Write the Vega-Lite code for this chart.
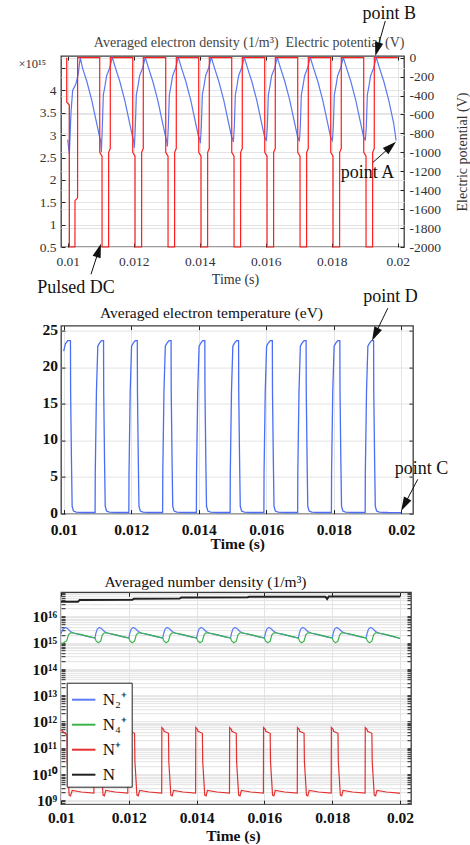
{
"$schema": "https://vega.github.io/schema/vega-lite/v6.json",
"padding": {"left": 17, "top": 3, "right": 0, "bottom": 0},
"background": "white",
"config": {
 "font": "Liberation Serif",
 "view": {"stroke": "#3c3c3c", "strokeWidth": 1.3},
 "axis": {"labelFont": "Liberation Serif", "titleFont": "Liberation Serif", "domain": false, "tickColor": "#222", "tickSize": -4, "tickWidth": 1, "gridColor": "#e4e4e4", "gridWidth": 1, "labelColor": "#111", "titleColor": "#111", "titleFontWeight": "normal", "labelOverlap": false, "labelFlush": false, "labelBound": false},
 "legend": {"fillColor": "#ffffff", "zindex": 1}
},
"datasets": {
 "dens": [
  {"t":0.01,"ne":2.9},{"t":0.01005,"ne":2.58},{"t":0.0101,"ne":3.5},{"t":0.01015,"ne":4.0},{"t":0.01025,"ne":4.15},{"t":0.01032,"ne":4.37},{"t":0.01038,"ne":4.74},{"t":0.01045,"ne":4.5},{"t":0.01058,"ne":4.2},{"t":0.01073,"ne":3.78},{"t":0.01088,"ne":3.26},{"t":0.01097,"ne":2.95},
  {"t":0.011,"ne":2.88},{"t":0.01102,"ne":2.62},{"t":0.01105,"ne":3.2},{"t":0.01108,"ne":3.9},{"t":0.01113,"ne":4.1},{"t":0.01118,"ne":4.33},{"t":0.01128,"ne":4.52},{"t":0.01135,"ne":4.74},{"t":0.01145,"ne":4.5},{"t":0.01158,"ne":4.2},{"t":0.01173,"ne":3.78},{"t":0.01188,"ne":3.26},{"t":0.01197,"ne":2.95},
  {"t":0.012,"ne":2.88},{"t":0.01202,"ne":2.72},{"t":0.01205,"ne":3.2},{"t":0.01208,"ne":3.9},{"t":0.01213,"ne":4.1},{"t":0.01218,"ne":4.33},{"t":0.01228,"ne":4.52},{"t":0.01235,"ne":4.74},{"t":0.01245,"ne":4.5},{"t":0.01258,"ne":4.2},{"t":0.01273,"ne":3.78},{"t":0.01288,"ne":3.26},{"t":0.01297,"ne":2.95},
  {"t":0.013,"ne":2.88},{"t":0.01302,"ne":2.75},{"t":0.01305,"ne":3.2},{"t":0.01308,"ne":3.9},{"t":0.01313,"ne":4.1},{"t":0.01318,"ne":4.33},{"t":0.01328,"ne":4.52},{"t":0.01335,"ne":4.74},{"t":0.01345,"ne":4.5},{"t":0.01358,"ne":4.2},{"t":0.01373,"ne":3.78},{"t":0.01388,"ne":3.26},{"t":0.01397,"ne":2.95},
  {"t":0.014,"ne":2.92},{"t":0.01402,"ne":2.82},{"t":0.01405,"ne":3.2},{"t":0.01408,"ne":3.9},{"t":0.01413,"ne":4.1},{"t":0.01418,"ne":4.33},{"t":0.01428,"ne":4.52},{"t":0.01435,"ne":4.74},{"t":0.01445,"ne":4.5},{"t":0.01458,"ne":4.2},{"t":0.01473,"ne":3.78},{"t":0.01488,"ne":3.26},{"t":0.01497,"ne":2.95},
  {"t":0.015,"ne":2.92},{"t":0.01502,"ne":2.85},{"t":0.01505,"ne":3.2},{"t":0.01508,"ne":3.9},{"t":0.01513,"ne":4.1},{"t":0.01518,"ne":4.33},{"t":0.01528,"ne":4.52},{"t":0.01535,"ne":4.74},{"t":0.01545,"ne":4.5},{"t":0.01558,"ne":4.2},{"t":0.01573,"ne":3.78},{"t":0.01588,"ne":3.26},{"t":0.01597,"ne":2.95},
  {"t":0.016,"ne":2.92},{"t":0.01602,"ne":2.87},{"t":0.01605,"ne":3.2},{"t":0.01608,"ne":3.9},{"t":0.01613,"ne":4.1},{"t":0.01618,"ne":4.33},{"t":0.01628,"ne":4.52},{"t":0.01635,"ne":4.74},{"t":0.01645,"ne":4.5},{"t":0.01658,"ne":4.2},{"t":0.01673,"ne":3.78},{"t":0.01688,"ne":3.26},{"t":0.01697,"ne":2.95},
  {"t":0.017,"ne":2.92},{"t":0.01702,"ne":2.86},{"t":0.01705,"ne":3.2},{"t":0.01708,"ne":3.9},{"t":0.01713,"ne":4.1},{"t":0.01718,"ne":4.33},{"t":0.01728,"ne":4.52},{"t":0.01735,"ne":4.74},{"t":0.01745,"ne":4.5},{"t":0.01758,"ne":4.2},{"t":0.01773,"ne":3.78},{"t":0.01788,"ne":3.26},{"t":0.01797,"ne":2.95},
  {"t":0.018,"ne":2.92},{"t":0.01802,"ne":2.86},{"t":0.01805,"ne":3.2},{"t":0.01808,"ne":3.9},{"t":0.01813,"ne":4.1},{"t":0.01818,"ne":4.33},{"t":0.01828,"ne":4.52},{"t":0.01835,"ne":4.74},{"t":0.01845,"ne":4.5},{"t":0.01858,"ne":4.2},{"t":0.01873,"ne":3.78},{"t":0.01888,"ne":3.26},{"t":0.01897,"ne":2.95},
  {"t":0.019,"ne":2.92},{"t":0.01902,"ne":2.88},{"t":0.01905,"ne":3.2},{"t":0.01908,"ne":3.9},{"t":0.01913,"ne":4.1},{"t":0.01918,"ne":4.33},{"t":0.01928,"ne":4.52},{"t":0.01935,"ne":4.74},{"t":0.01945,"ne":4.5},{"t":0.01958,"ne":4.2},{"t":0.01973,"ne":3.78},{"t":0.01988,"ne":3.26},{"t":0.01995,"ne":2.88}
 ],
 "pot": [
  {"t":0.00997,"v":0},{"t":0.009971,"v":-470},{"t":0.01005,"v":-500},{"t":0.010051,"v":-2000},{"t":0.01022,"v":-2000},{"t":0.010221,"v":-1510},{"t":0.0103,"v":-1480},{"t":0.010301,"v":0},
  {"t":0.01097,"v":0},{"t":0.010971,"v":-1000},{"t":0.01104,"v":-1040},{"t":0.011041,"v":-2000},{"t":0.01124,"v":-2000},{"t":0.011241,"v":-1000},{"t":0.01129,"v":-960},{"t":0.011291,"v":0},
  {"t":0.01197,"v":0},{"t":0.011971,"v":-1000},{"t":0.01204,"v":-1040},{"t":0.012041,"v":-2000},{"t":0.01224,"v":-2000},{"t":0.012241,"v":-1000},{"t":0.01229,"v":-960},{"t":0.012291,"v":0},
  {"t":0.01297,"v":0},{"t":0.012971,"v":-1000},{"t":0.01304,"v":-1040},{"t":0.013041,"v":-2000},{"t":0.01324,"v":-2000},{"t":0.013241,"v":-1000},{"t":0.01329,"v":-960},{"t":0.013291,"v":0},
  {"t":0.01397,"v":0},{"t":0.013971,"v":-1000},{"t":0.01404,"v":-1040},{"t":0.014041,"v":-2000},{"t":0.01424,"v":-2000},{"t":0.014241,"v":-1000},{"t":0.01429,"v":-960},{"t":0.014291,"v":0},
  {"t":0.01497,"v":0},{"t":0.014971,"v":-1000},{"t":0.01504,"v":-1040},{"t":0.015041,"v":-2000},{"t":0.01524,"v":-2000},{"t":0.015241,"v":-1000},{"t":0.01529,"v":-960},{"t":0.015291,"v":0},
  {"t":0.01597,"v":0},{"t":0.015971,"v":-1000},{"t":0.01604,"v":-1040},{"t":0.016041,"v":-2000},{"t":0.01624,"v":-2000},{"t":0.016241,"v":-1000},{"t":0.01629,"v":-960},{"t":0.016291,"v":0},
  {"t":0.01697,"v":0},{"t":0.016971,"v":-1000},{"t":0.01704,"v":-1040},{"t":0.017041,"v":-2000},{"t":0.01724,"v":-2000},{"t":0.017241,"v":-1000},{"t":0.01729,"v":-960},{"t":0.017291,"v":0},
  {"t":0.01797,"v":0},{"t":0.017971,"v":-1000},{"t":0.01804,"v":-1040},{"t":0.018041,"v":-2000},{"t":0.01824,"v":-2000},{"t":0.018241,"v":-1000},{"t":0.01829,"v":-960},{"t":0.018291,"v":0},
  {"t":0.01897,"v":0},{"t":0.018971,"v":-1000},{"t":0.01904,"v":-1040},{"t":0.019041,"v":-2000},{"t":0.01924,"v":-2000},{"t":0.019241,"v":-1000},{"t":0.01929,"v":-960},{"t":0.019291,"v":0},
  {"t":0.02,"v":0}
 ],
 "temp": [
  {"t":0.01,"te":22.2},{"t":0.01005,"te":23.2},{"t":0.01012,"te":23.65},{"t":0.0102,"te":23.65},{"t":0.010205,"te":16.7},{"t":0.01023,"te":7.2},{"t":0.01025,"te":1.0},{"t":0.01029,"te":0.35},{"t":0.01037,"te":0.2},{"t":0.0106,"te":0.15},
  {"t":0.01093,"te":0.15},{"t":0.010935,"te":5.6},{"t":0.01097,"te":16.7},{"t":0.01101,"te":22.9},{"t":0.01106,"te":23.3},{"t":0.01112,"te":23.65},{"t":0.01118,"te":23.65},{"t":0.011185,"te":16.7},{"t":0.01121,"te":7.2},{"t":0.01123,"te":1.0},{"t":0.01127,"te":0.35},{"t":0.01135,"te":0.2},{"t":0.0116,"te":0.15},
  {"t":0.01193,"te":0.15},{"t":0.011935,"te":5.6},{"t":0.01197,"te":16.7},{"t":0.01201,"te":22.9},{"t":0.01206,"te":23.3},{"t":0.01212,"te":23.65},{"t":0.01218,"te":23.65},{"t":0.012185,"te":16.7},{"t":0.01221,"te":7.2},{"t":0.01223,"te":1.0},{"t":0.01227,"te":0.35},{"t":0.01235,"te":0.2},{"t":0.0126,"te":0.15},
  {"t":0.01293,"te":0.15},{"t":0.012935,"te":5.6},{"t":0.01297,"te":16.7},{"t":0.01301,"te":22.9},{"t":0.01306,"te":23.3},{"t":0.01312,"te":23.65},{"t":0.01318,"te":23.65},{"t":0.013185,"te":16.7},{"t":0.01321,"te":7.2},{"t":0.01323,"te":1.0},{"t":0.01327,"te":0.35},{"t":0.01335,"te":0.2},{"t":0.0136,"te":0.15},
  {"t":0.01393,"te":0.15},{"t":0.013935,"te":5.6},{"t":0.01397,"te":16.7},{"t":0.01401,"te":22.9},{"t":0.01406,"te":23.3},{"t":0.01412,"te":23.65},{"t":0.01418,"te":23.65},{"t":0.014185,"te":16.7},{"t":0.01421,"te":7.2},{"t":0.01423,"te":1.0},{"t":0.01427,"te":0.35},{"t":0.01435,"te":0.2},{"t":0.0146,"te":0.15},
  {"t":0.01493,"te":0.15},{"t":0.014935,"te":5.6},{"t":0.01497,"te":16.7},{"t":0.01501,"te":22.9},{"t":0.01506,"te":23.3},{"t":0.01512,"te":23.65},{"t":0.01518,"te":23.65},{"t":0.015185,"te":16.7},{"t":0.01521,"te":7.2},{"t":0.01523,"te":1.0},{"t":0.01527,"te":0.35},{"t":0.01535,"te":0.2},{"t":0.0156,"te":0.15},
  {"t":0.01593,"te":0.15},{"t":0.015935,"te":5.6},{"t":0.01597,"te":16.7},{"t":0.01601,"te":22.9},{"t":0.01606,"te":23.3},{"t":0.01612,"te":23.65},{"t":0.01618,"te":23.65},{"t":0.016185,"te":16.7},{"t":0.01621,"te":7.2},{"t":0.01623,"te":1.0},{"t":0.01627,"te":0.35},{"t":0.01635,"te":0.2},{"t":0.0166,"te":0.15},
  {"t":0.01693,"te":0.15},{"t":0.016935,"te":5.6},{"t":0.01697,"te":16.7},{"t":0.01701,"te":22.9},{"t":0.01706,"te":23.3},{"t":0.01712,"te":23.65},{"t":0.01718,"te":23.65},{"t":0.017185,"te":16.7},{"t":0.01721,"te":7.2},{"t":0.01723,"te":1.0},{"t":0.01727,"te":0.35},{"t":0.01735,"te":0.2},{"t":0.0176,"te":0.15},
  {"t":0.01793,"te":0.15},{"t":0.017935,"te":5.6},{"t":0.01797,"te":16.7},{"t":0.01801,"te":22.9},{"t":0.01806,"te":23.3},{"t":0.01812,"te":23.65},{"t":0.01818,"te":23.65},{"t":0.018185,"te":16.7},{"t":0.01821,"te":7.2},{"t":0.01823,"te":1.0},{"t":0.01827,"te":0.35},{"t":0.01835,"te":0.2},{"t":0.0186,"te":0.15},
  {"t":0.01893,"te":0.15},{"t":0.018935,"te":5.6},{"t":0.01897,"te":16.7},{"t":0.01901,"te":22.9},{"t":0.01906,"te":23.3},{"t":0.01912,"te":23.65},{"t":0.01918,"te":23.65},{"t":0.019185,"te":16.7},{"t":0.01921,"te":7.2},{"t":0.01923,"te":1.0},{"t":0.01927,"te":0.35},{"t":0.01935,"te":0.2},{"t":0.0196,"te":0.15},
  {"t":0.02,"te":0.13}
 ],
 "nd": [
  {"t":0.01,"species":"N₂⁺","n":2.2e15},{"t":0.01005,"species":"N₂⁺","n":3.2e15},{"t":0.01013,"species":"N₂⁺","n":3.8e15},{"t":0.0102,"species":"N₂⁺","n":3.4e15},{"t":0.01028,"species":"N₂⁺","n":2.7e15},{"t":0.01038,"species":"N₂⁺","n":2.3e15},{"t":0.0106,"species":"N₂⁺","n":2.0e15},{"t":0.0108,"species":"N₂⁺","n":1.72e15},
  {"t":0.011,"species":"N₂⁺","n":1.5e15},{"t":0.01103,"species":"N₂⁺","n":2.3e15},{"t":0.01107,"species":"N₂⁺","n":3.3e15},{"t":0.01113,"species":"N₂⁺","n":3.8e15},{"t":0.0112,"species":"N₂⁺","n":3.4e15},{"t":0.01128,"species":"N₂⁺","n":2.7e15},{"t":0.01138,"species":"N₂⁺","n":2.3e15},{"t":0.0116,"species":"N₂⁺","n":2.0e15},{"t":0.0118,"species":"N₂⁺","n":1.72e15},
  {"t":0.012,"species":"N₂⁺","n":1.5e15},{"t":0.01203,"species":"N₂⁺","n":2.3e15},{"t":0.01207,"species":"N₂⁺","n":3.3e15},{"t":0.01213,"species":"N₂⁺","n":3.8e15},{"t":0.0122,"species":"N₂⁺","n":3.4e15},{"t":0.01228,"species":"N₂⁺","n":2.7e15},{"t":0.01238,"species":"N₂⁺","n":2.3e15},{"t":0.0126,"species":"N₂⁺","n":2.0e15},{"t":0.0128,"species":"N₂⁺","n":1.72e15},
  {"t":0.013,"species":"N₂⁺","n":1.5e15},{"t":0.01303,"species":"N₂⁺","n":2.3e15},{"t":0.01307,"species":"N₂⁺","n":3.3e15},{"t":0.01313,"species":"N₂⁺","n":3.8e15},{"t":0.0132,"species":"N₂⁺","n":3.4e15},{"t":0.01328,"species":"N₂⁺","n":2.7e15},{"t":0.01338,"species":"N₂⁺","n":2.3e15},{"t":0.0136,"species":"N₂⁺","n":2.0e15},{"t":0.0138,"species":"N₂⁺","n":1.72e15},
  {"t":0.014,"species":"N₂⁺","n":1.5e15},{"t":0.01403,"species":"N₂⁺","n":2.3e15},{"t":0.01407,"species":"N₂⁺","n":3.3e15},{"t":0.01413,"species":"N₂⁺","n":3.8e15},{"t":0.0142,"species":"N₂⁺","n":3.4e15},{"t":0.01428,"species":"N₂⁺","n":2.7e15},{"t":0.01438,"species":"N₂⁺","n":2.3e15},{"t":0.0146,"species":"N₂⁺","n":2.0e15},{"t":0.0148,"species":"N₂⁺","n":1.72e15},
  {"t":0.015,"species":"N₂⁺","n":1.5e15},{"t":0.01503,"species":"N₂⁺","n":2.3e15},{"t":0.01507,"species":"N₂⁺","n":3.3e15},{"t":0.01513,"species":"N₂⁺","n":3.8e15},{"t":0.0152,"species":"N₂⁺","n":3.4e15},{"t":0.01528,"species":"N₂⁺","n":2.7e15},{"t":0.01538,"species":"N₂⁺","n":2.3e15},{"t":0.0156,"species":"N₂⁺","n":2.0e15},{"t":0.0158,"species":"N₂⁺","n":1.72e15},
  {"t":0.016,"species":"N₂⁺","n":1.5e15},{"t":0.01603,"species":"N₂⁺","n":2.3e15},{"t":0.01607,"species":"N₂⁺","n":3.3e15},{"t":0.01613,"species":"N₂⁺","n":3.8e15},{"t":0.0162,"species":"N₂⁺","n":3.4e15},{"t":0.01628,"species":"N₂⁺","n":2.7e15},{"t":0.01638,"species":"N₂⁺","n":2.3e15},{"t":0.0166,"species":"N₂⁺","n":2.0e15},{"t":0.0168,"species":"N₂⁺","n":1.72e15},
  {"t":0.017,"species":"N₂⁺","n":1.5e15},{"t":0.01703,"species":"N₂⁺","n":2.3e15},{"t":0.01707,"species":"N₂⁺","n":3.3e15},{"t":0.01713,"species":"N₂⁺","n":3.8e15},{"t":0.0172,"species":"N₂⁺","n":3.4e15},{"t":0.01728,"species":"N₂⁺","n":2.7e15},{"t":0.01738,"species":"N₂⁺","n":2.3e15},{"t":0.0176,"species":"N₂⁺","n":2.0e15},{"t":0.0178,"species":"N₂⁺","n":1.72e15},
  {"t":0.018,"species":"N₂⁺","n":1.5e15},{"t":0.01803,"species":"N₂⁺","n":2.3e15},{"t":0.01807,"species":"N₂⁺","n":3.3e15},{"t":0.01813,"species":"N₂⁺","n":3.8e15},{"t":0.0182,"species":"N₂⁺","n":3.4e15},{"t":0.01828,"species":"N₂⁺","n":2.7e15},{"t":0.01838,"species":"N₂⁺","n":2.3e15},{"t":0.0186,"species":"N₂⁺","n":2.0e15},{"t":0.0188,"species":"N₂⁺","n":1.72e15},
  {"t":0.019,"species":"N₂⁺","n":1.5e15},{"t":0.01903,"species":"N₂⁺","n":2.3e15},{"t":0.01907,"species":"N₂⁺","n":3.3e15},{"t":0.01913,"species":"N₂⁺","n":3.8e15},{"t":0.0192,"species":"N₂⁺","n":3.4e15},{"t":0.01928,"species":"N₂⁺","n":2.7e15},{"t":0.01938,"species":"N₂⁺","n":2.3e15},{"t":0.0196,"species":"N₂⁺","n":2.0e15},{"t":0.0198,"species":"N₂⁺","n":1.72e15},
  {"t":0.02,"species":"N₂⁺","n":1.45e15},
  {"t":0.01,"species":"N₄⁺","n":9.5e14},{"t":0.01005,"species":"N₄⁺","n":9.5e14},{"t":0.0101,"species":"N₄⁺","n":1.05e15},{"t":0.01017,"species":"N₄⁺","n":1.2e15},{"t":0.01022,"species":"N₄⁺","n":2.0e15},{"t":0.01028,"species":"N₄⁺","n":2.4e15},{"t":0.01038,"species":"N₄⁺","n":2.35e15},{"t":0.0106,"species":"N₄⁺","n":2.03e15},{"t":0.0108,"species":"N₄⁺","n":1.75e15},
  {"t":0.011,"species":"N₄⁺","n":1.52e15},{"t":0.01104,"species":"N₄⁺","n":1.15e15},{"t":0.0111,"species":"N₄⁺","n":1.0e15},{"t":0.01117,"species":"N₄⁺","n":1.15e15},{"t":0.01122,"species":"N₄⁺","n":2.0e15},{"t":0.01128,"species":"N₄⁺","n":2.4e15},{"t":0.01138,"species":"N₄⁺","n":2.35e15},{"t":0.0116,"species":"N₄⁺","n":2.03e15},{"t":0.0118,"species":"N₄⁺","n":1.75e15},
  {"t":0.012,"species":"N₄⁺","n":1.52e15},{"t":0.01204,"species":"N₄⁺","n":1.15e15},{"t":0.0121,"species":"N₄⁺","n":1.0e15},{"t":0.01217,"species":"N₄⁺","n":1.15e15},{"t":0.01222,"species":"N₄⁺","n":2.0e15},{"t":0.01228,"species":"N₄⁺","n":2.4e15},{"t":0.01238,"species":"N₄⁺","n":2.35e15},{"t":0.0126,"species":"N₄⁺","n":2.03e15},{"t":0.0128,"species":"N₄⁺","n":1.75e15},
  {"t":0.013,"species":"N₄⁺","n":1.52e15},{"t":0.01304,"species":"N₄⁺","n":1.15e15},{"t":0.0131,"species":"N₄⁺","n":1.0e15},{"t":0.01317,"species":"N₄⁺","n":1.15e15},{"t":0.01322,"species":"N₄⁺","n":2.0e15},{"t":0.01328,"species":"N₄⁺","n":2.4e15},{"t":0.01338,"species":"N₄⁺","n":2.35e15},{"t":0.0136,"species":"N₄⁺","n":2.03e15},{"t":0.0138,"species":"N₄⁺","n":1.75e15},
  {"t":0.014,"species":"N₄⁺","n":1.52e15},{"t":0.01404,"species":"N₄⁺","n":1.15e15},{"t":0.0141,"species":"N₄⁺","n":1.0e15},{"t":0.01417,"species":"N₄⁺","n":1.15e15},{"t":0.01422,"species":"N₄⁺","n":2.0e15},{"t":0.01428,"species":"N₄⁺","n":2.4e15},{"t":0.01438,"species":"N₄⁺","n":2.35e15},{"t":0.0146,"species":"N₄⁺","n":2.03e15},{"t":0.0148,"species":"N₄⁺","n":1.75e15},
  {"t":0.015,"species":"N₄⁺","n":1.52e15},{"t":0.01504,"species":"N₄⁺","n":1.15e15},{"t":0.0151,"species":"N₄⁺","n":1.0e15},{"t":0.01517,"species":"N₄⁺","n":1.15e15},{"t":0.01522,"species":"N₄⁺","n":2.0e15},{"t":0.01528,"species":"N₄⁺","n":2.4e15},{"t":0.01538,"species":"N₄⁺","n":2.35e15},{"t":0.0156,"species":"N₄⁺","n":2.03e15},{"t":0.0158,"species":"N₄⁺","n":1.75e15},
  {"t":0.016,"species":"N₄⁺","n":1.52e15},{"t":0.01604,"species":"N₄⁺","n":1.15e15},{"t":0.0161,"species":"N₄⁺","n":1.0e15},{"t":0.01617,"species":"N₄⁺","n":1.15e15},{"t":0.01622,"species":"N₄⁺","n":2.0e15},{"t":0.01628,"species":"N₄⁺","n":2.4e15},{"t":0.01638,"species":"N₄⁺","n":2.35e15},{"t":0.0166,"species":"N₄⁺","n":2.03e15},{"t":0.0168,"species":"N₄⁺","n":1.75e15},
  {"t":0.017,"species":"N₄⁺","n":1.52e15},{"t":0.01704,"species":"N₄⁺","n":1.15e15},{"t":0.0171,"species":"N₄⁺","n":1.0e15},{"t":0.01717,"species":"N₄⁺","n":1.15e15},{"t":0.01722,"species":"N₄⁺","n":2.0e15},{"t":0.01728,"species":"N₄⁺","n":2.4e15},{"t":0.01738,"species":"N₄⁺","n":2.35e15},{"t":0.0176,"species":"N₄⁺","n":2.03e15},{"t":0.0178,"species":"N₄⁺","n":1.75e15},
  {"t":0.018,"species":"N₄⁺","n":1.52e15},{"t":0.01804,"species":"N₄⁺","n":1.15e15},{"t":0.0181,"species":"N₄⁺","n":1.0e15},{"t":0.01817,"species":"N₄⁺","n":1.15e15},{"t":0.01822,"species":"N₄⁺","n":2.0e15},{"t":0.01828,"species":"N₄⁺","n":2.4e15},{"t":0.01838,"species":"N₄⁺","n":2.35e15},{"t":0.0186,"species":"N₄⁺","n":2.03e15},{"t":0.0188,"species":"N₄⁺","n":1.75e15},
  {"t":0.019,"species":"N₄⁺","n":1.52e15},{"t":0.01904,"species":"N₄⁺","n":1.15e15},{"t":0.0191,"species":"N₄⁺","n":1.0e15},{"t":0.01917,"species":"N₄⁺","n":1.15e15},{"t":0.01922,"species":"N₄⁺","n":2.0e15},{"t":0.01928,"species":"N₄⁺","n":2.4e15},{"t":0.01938,"species":"N₄⁺","n":2.35e15},{"t":0.0196,"species":"N₄⁺","n":2.03e15},{"t":0.0198,"species":"N₄⁺","n":1.75e15},
  {"t":0.02,"species":"N₄⁺","n":1.48e15},
  {"t":0.01,"species":"N⁺","n":5.1e11},{"t":0.01003,"species":"N⁺","n":4.5e11},{"t":0.01015,"species":"N⁺","n":3.3e11},{"t":0.01018,"species":"N⁺","n":3.0e11},{"t":0.010185,"species":"N⁺","n":3e10},{"t":0.01024,"species":"N⁺","n":1.6e9},{"t":0.01028,"species":"N⁺","n":1.5e9},{"t":0.01033,"species":"N⁺","n":2.4e9},{"t":0.0106,"species":"N⁺","n":2.1e9},{"t":0.01097,"species":"N⁺","n":1.9e9},
  {"t":0.010975,"species":"N⁺","n":6e11},{"t":0.01103,"species":"N⁺","n":5e11},{"t":0.01104,"species":"N⁺","n":4.3e11},{"t":0.01117,"species":"N⁺","n":3.6e11},{"t":0.01118,"species":"N⁺","n":3e10},{"t":0.01124,"species":"N⁺","n":1.6e9},{"t":0.01128,"species":"N⁺","n":1.5e9},{"t":0.01132,"species":"N⁺","n":2.4e9},{"t":0.0116,"species":"N⁺","n":2.1e9},{"t":0.01197,"species":"N⁺","n":1.9e9},
  {"t":0.011975,"species":"N⁺","n":6e11},{"t":0.01203,"species":"N⁺","n":5e11},{"t":0.01204,"species":"N⁺","n":4.3e11},{"t":0.01217,"species":"N⁺","n":3.6e11},{"t":0.01218,"species":"N⁺","n":3e10},{"t":0.01224,"species":"N⁺","n":1.6e9},{"t":0.01228,"species":"N⁺","n":1.5e9},{"t":0.01232,"species":"N⁺","n":2.4e9},{"t":0.0126,"species":"N⁺","n":2.1e9},{"t":0.01297,"species":"N⁺","n":1.9e9},
  {"t":0.012975,"species":"N⁺","n":6e11},{"t":0.01303,"species":"N⁺","n":5e11},{"t":0.01304,"species":"N⁺","n":4.3e11},{"t":0.01317,"species":"N⁺","n":3.6e11},{"t":0.01318,"species":"N⁺","n":3e10},{"t":0.01324,"species":"N⁺","n":1.6e9},{"t":0.01328,"species":"N⁺","n":1.5e9},{"t":0.01332,"species":"N⁺","n":2.4e9},{"t":0.0136,"species":"N⁺","n":2.1e9},{"t":0.01397,"species":"N⁺","n":1.9e9},
  {"t":0.013975,"species":"N⁺","n":6e11},{"t":0.01403,"species":"N⁺","n":5e11},{"t":0.01404,"species":"N⁺","n":4.3e11},{"t":0.01417,"species":"N⁺","n":3.6e11},{"t":0.01418,"species":"N⁺","n":3e10},{"t":0.01424,"species":"N⁺","n":1.6e9},{"t":0.01428,"species":"N⁺","n":1.5e9},{"t":0.01432,"species":"N⁺","n":2.4e9},{"t":0.0146,"species":"N⁺","n":2.1e9},{"t":0.01497,"species":"N⁺","n":1.9e9},
  {"t":0.014975,"species":"N⁺","n":6e11},{"t":0.01503,"species":"N⁺","n":5e11},{"t":0.01504,"species":"N⁺","n":4.3e11},{"t":0.01517,"species":"N⁺","n":3.6e11},{"t":0.01518,"species":"N⁺","n":3e10},{"t":0.01524,"species":"N⁺","n":1.6e9},{"t":0.01528,"species":"N⁺","n":1.5e9},{"t":0.01532,"species":"N⁺","n":2.4e9},{"t":0.0156,"species":"N⁺","n":2.1e9},{"t":0.01597,"species":"N⁺","n":1.9e9},
  {"t":0.015975,"species":"N⁺","n":6e11},{"t":0.01603,"species":"N⁺","n":5e11},{"t":0.01604,"species":"N⁺","n":4.3e11},{"t":0.01617,"species":"N⁺","n":3.6e11},{"t":0.01618,"species":"N⁺","n":3e10},{"t":0.01624,"species":"N⁺","n":1.6e9},{"t":0.01628,"species":"N⁺","n":1.5e9},{"t":0.01632,"species":"N⁺","n":2.4e9},{"t":0.0166,"species":"N⁺","n":2.1e9},{"t":0.01697,"species":"N⁺","n":1.9e9},
  {"t":0.016975,"species":"N⁺","n":6e11},{"t":0.01703,"species":"N⁺","n":5e11},{"t":0.01704,"species":"N⁺","n":4.3e11},{"t":0.01717,"species":"N⁺","n":3.6e11},{"t":0.01718,"species":"N⁺","n":3e10},{"t":0.01724,"species":"N⁺","n":1.6e9},{"t":0.01728,"species":"N⁺","n":1.5e9},{"t":0.01732,"species":"N⁺","n":2.4e9},{"t":0.0176,"species":"N⁺","n":2.1e9},{"t":0.01797,"species":"N⁺","n":1.9e9},
  {"t":0.017975,"species":"N⁺","n":6e11},{"t":0.01803,"species":"N⁺","n":5e11},{"t":0.01804,"species":"N⁺","n":4.3e11},{"t":0.01817,"species":"N⁺","n":3.6e11},{"t":0.01818,"species":"N⁺","n":3e10},{"t":0.01824,"species":"N⁺","n":1.6e9},{"t":0.01828,"species":"N⁺","n":1.5e9},{"t":0.01832,"species":"N⁺","n":2.4e9},{"t":0.0186,"species":"N⁺","n":2.1e9},{"t":0.01897,"species":"N⁺","n":1.9e9},
  {"t":0.018975,"species":"N⁺","n":6e11},{"t":0.01903,"species":"N⁺","n":5e11},{"t":0.01904,"species":"N⁺","n":4.3e11},{"t":0.01917,"species":"N⁺","n":3.6e11},{"t":0.01918,"species":"N⁺","n":3e10},{"t":0.01924,"species":"N⁺","n":1.6e9},{"t":0.01928,"species":"N⁺","n":1.5e9},{"t":0.01932,"species":"N⁺","n":2.4e9},{"t":0.0196,"species":"N⁺","n":2.1e9},{"t":0.01997,"species":"N⁺","n":1.9e9},
  {"t":0.02,"species":"N⁺","n":1.85e9},
  {"t":0.01,"species":"N","n":3.6e16},{"t":0.0105,"species":"N","n":3.65e16},{"t":0.01055,"species":"N","n":4.2e16},{"t":0.0121,"species":"N","n":4.3e16},{"t":0.01215,"species":"N","n":4.7e16},{"t":0.0135,"species":"N","n":4.8e16},{"t":0.01355,"species":"N","n":5.3e16},{"t":0.0155,"species":"N","n":5.4e16},{"t":0.01555,"species":"N","n":5.6e16},{"t":0.0178,"species":"N","n":5.65e16},{"t":0.01785,"species":"N","n":4.6e16},{"t":0.0179,"species":"N","n":5.8e16},{"t":0.02,"species":"N","n":5.8e16}
 ],
 "ann1": [{"label":"point B","t":0.019745,"v":414},{"label":"point A","t":0.019085,"v":-1276},{"label":"Pulsed DC","t":0.010252,"v":-2481}],
 "arr1": [{"label":"point B","t0":0.019624,"v0":388,"t1":0.019379,"v1":89},{"label":"point A","t0":0.019242,"v0":-1109,"t1":0.019791,"v1":-937},{"label":"Pulsed DC","t0":0.010706,"v0":-2288,"t1":0.010942,"v1":-2035}],
 "ann2": [{"label":"point D","t":0.019683,"v":28.93},{"label":"point C","t":0.020601,"v":5.37}],
 "arr2": [{"label":"point D","t0":0.0196,"v0":28.08,"t1":0.019224,"v1":24.5},{"label":"point C","t0":0.020489,"v0":4.69,"t1":0.020092,"v1":1.21}]
},
"spacing": 78.6,
"bounds": "flush",
"vconcat": [
 {
  "width": 343, "height": 191,
  "layer": [
   {
    "data": {"name": "dens"},
    "mark": {"type": "line", "color": "#5a78f0", "strokeWidth": 1.2},
    "encoding": {
     "x": {"field": "t", "type": "quantitative", "scale": {"domain": [0.009797, 0.020191], "nice": false, "zero": false},
      "axis": {"orient": "bottom", "values": [0.01,0.012,0.014,0.016,0.018,0.02], "format": "~g", "labelFontSize": 13.5, "labelColor": "#333", "labelPadding": 11, "grid": true, "title": "Time (s)", "titleFontSize": 14, "titleColor": "#333", "titleX": 174, "titleY": 36, "titleAlign": "center", "titleBaseline": "alphabetic", "titleAngle": 0}},
     "y": {"field": "ne", "type": "quantitative", "scale": {"domain": [0.5, 4.77], "nice": false, "zero": false},
      "axis": {"orient": "left", "values": [0.5,1,1.5,2,2.5,3,3.5,4,4.5], "labelExpr": "datum.value == 4.5 ? '' : format(datum.value, '~g')", "labelFontSize": 13.5, "labelColor": "#333", "labelPadding": 9, "grid": true, "title": "×10¹⁵", "titleAngle": 0, "titleX": -43, "titleY": 7, "titleAlign": "left", "titleBaseline": "middle", "titleFontSize": 12.5, "titleColor": "#333"}}
    }
   },
   {
    "data": {"name": "pot"},
    "mark": {"type": "line", "color": "#ff1c1c", "strokeWidth": 1.2},
    "encoding": {
     "x": {"field": "t", "type": "quantitative",
      "axis": {"orient": "top", "values": [0.01,0.012,0.014,0.016,0.018,0.02], "labels": false, "grid": false, "title": "Averaged electron density (1/m³)\u00a0\u00a0Electric potential (V)", "titleX": 343, "titleY": -10, "titleAlign": "right", "titleBaseline": "alphabetic", "titleAngle": 0, "titleFontSize": 14, "titleColor": "#444"}},
     "y": {"field": "v", "type": "quantitative", "scale": {"domain": [-2000, 18], "nice": false, "zero": false},
      "axis": {"orient": "right", "values": [-2000,-1800,-1600,-1400,-1200,-1000,-800,-600,-400,-200,0], "labelExpr": "'' + datum.value", "labelFontSize": 13.5, "labelColor": "#333", "labelPadding": 9, "grid": true, "title": "Electric potential (V)", "titleAngle": 270, "titleX": 58.7, "titleY": 95.5, "titleAlign": "center", "titleBaseline": "middle", "titleFontSize": 14, "titleColor": "#333"}}
    }
   },
   {
    "data": {"name": "ann1"},
    "mark": {"type": "text", "fontSize": 18, "align": "center", "baseline": "alphabetic", "color": "#111", "clip": false},
    "encoding": {"x": {"field": "t", "type": "quantitative", "axis": null}, "y": {"field": "v", "type": "quantitative", "axis": null, "scale": {"domain": [-2000, 18], "nice": false, "zero": false}}, "text": {"field": "label"}}
   },
   {
    "data": {"name": "arr1"},
    "mark": {"type": "rule", "color": "#111", "strokeWidth": 1, "clip": false},
    "encoding": {"x": {"field": "t0", "type": "quantitative", "axis": null}, "y": {"field": "v0", "type": "quantitative", "axis": null, "scale": {"domain": [-2000, 18], "nice": false, "zero": false}}, "x2": {"field": "t1"}, "y2": {"field": "v1"}}
   },
   {
    "data": {"name": "arr1"},
    "transform": [{"filter": "datum.label == 'point B'"}],
    "mark": {"type": "point", "shape": "M0,-1L-0.6,1L0.6,1Z", "size": 196, "filled": true, "color": "#111", "opacity": 1, "angle": 196, "clip": false},
    "encoding": {"x": {"field": "t1", "type": "quantitative", "axis": null}, "y": {"field": "v1", "type": "quantitative", "axis": null, "scale": {"domain": [-2000, 18], "nice": false, "zero": false}}}
   },
   {
    "data": {"name": "arr1"},
    "transform": [{"filter": "datum.label == 'point A'"}],
    "mark": {"type": "point", "shape": "M0,-1L-0.6,1L0.6,1Z", "size": 196, "filled": true, "color": "#111", "opacity": 1, "angle": 48, "clip": false},
    "encoding": {"x": {"field": "t1", "type": "quantitative", "axis": null}, "y": {"field": "v1", "type": "quantitative", "axis": null, "scale": {"domain": [-2000, 18], "nice": false, "zero": false}}}
   },
   {
    "data": {"name": "arr1"},
    "transform": [{"filter": "datum.label == 'Pulsed DC'"}],
    "mark": {"type": "point", "shape": "M0,-1L-0.6,1L0.6,1Z", "size": 196, "filled": true, "color": "#111", "opacity": 1, "angle": 18, "clip": false},
    "encoding": {"x": {"field": "t1", "type": "quantitative", "axis": null}, "y": {"field": "v1", "type": "quantitative", "axis": null, "scale": {"domain": [-2000, 18], "nice": false, "zero": false}}}
   }
  ],
  "resolve": {"scale": {"y": "independent"}, "axis": {"x": "independent", "y": "independent"}}
 },
 {
  "width": 352, "height": 188,
  "layer": [
   {
    "data": {"name": "temp"},
    "mark": {"type": "line", "color": "#4a6ef5", "strokeWidth": 1.3},
    "encoding": {
     "x": {"field": "t", "type": "quantitative", "scale": {"domain": [0.00992, 0.020347], "nice": false, "zero": false},
      "axis": {"orient": "bottom", "values": [0.01,0.012,0.014,0.016,0.018,0.02], "format": "~g", "labelFontSize": 15.5, "labelFontWeight": "bold", "labelPadding": 12.5, "grid": true, "title": "Time (s)", "titleFontSize": 15.5, "titleFontWeight": "bold", "titleX": 176.3, "titleY": 34.8, "titleAlign": "center", "titleBaseline": "alphabetic", "titleAngle": 0}},
     "y": {"field": "te", "type": "quantitative", "scale": {"domain": [0, 25.7], "nice": false, "zero": false},
      "axis": {"orient": "left", "values": [0,5,10,15,20,25], "labelFontSize": 15.5, "labelFontWeight": "bold", "labelPadding": 7.4, "labelOffset": -1.5, "grid": true, "title": null}}
    }
   },
   {
    "data": {"name": "ann2"},
    "mark": {"type": "text", "fontSize": 18, "align": "center", "baseline": "alphabetic", "color": "#111", "clip": false},
    "encoding": {
     "x": {"field": "t", "type": "quantitative",
      "axis": {"orient": "top", "values": [0.01,0.012,0.014,0.016,0.018,0.02], "labels": false, "grid": false, "title": "Averaged electron temperature (eV)", "titleX": 150, "titleY": -8.5, "titleAlign": "center", "titleBaseline": "alphabetic", "titleAngle": 0, "titleFontSize": 15.5}},
     "y": {"field": "v", "type": "quantitative",
      "axis": {"orient": "right", "values": [0,5,10,15,20,25], "labels": false, "grid": false, "title": null}},
     "text": {"field": "label"}
    }
   },
   {
    "data": {"name": "arr2"},
    "mark": {"type": "rule", "color": "#111", "strokeWidth": 1, "clip": false},
    "encoding": {"x": {"field": "t0", "type": "quantitative", "axis": null}, "y": {"field": "v0", "type": "quantitative", "axis": null}, "x2": {"field": "t1"}, "y2": {"field": "v1"}}
   },
   {
    "data": {"name": "arr2"},
    "transform": [{"filter": "datum.label == 'point D'"}],
    "mark": {"type": "point", "shape": "M0,-1L-0.6,1L0.6,1Z", "size": 196, "filled": true, "color": "#111", "opacity": 1, "angle": 206, "clip": false},
    "encoding": {"x": {"field": "t1", "type": "quantitative", "axis": null}, "y": {"field": "v1", "type": "quantitative", "axis": null}}
   },
   {
    "data": {"name": "arr2"},
    "transform": [{"filter": "datum.label == 'point C'"}],
    "mark": {"type": "point", "shape": "M0,-1L-0.6,1L0.6,1Z", "size": 196, "filled": true, "color": "#111", "opacity": 1, "angle": 208, "clip": false},
    "encoding": {"x": {"field": "t1", "type": "quantitative", "axis": null}, "y": {"field": "v1", "type": "quantitative", "axis": null}}
   }
  ],
  "resolve": {"axis": {"x": "independent", "y": "independent"}}
 },
 {
  "width": 350, "height": 212,
  "layer": [
   {
    "data": {"name": "nd"},
    "mark": {"type": "line"},
    "encoding": {
     "x": {"field": "t", "type": "quantitative", "scale": {"domain": [0.01, 0.020324], "nice": false, "zero": false},
      "axis": {"orient": "bottom", "values": [0.01,0.012,0.014,0.016,0.018,0.02], "format": "~g", "labelFontSize": 15.5, "labelFontWeight": "bold", "labelPadding": 10, "grid": true, "title": "Time (s)", "titleFontSize": 15.5, "titleFontWeight": "bold", "titleX": 172, "titleY": 35.8, "titleAlign": "center", "titleBaseline": "alphabetic", "titleAngle": 0}},
     "y": {"field": "n", "type": "quantitative", "scale": {"type": "log", "domain": [7.2e8, 8.4e16], "nice": false},
      "axis": {"orient": "left", "values": [8e8,9e8,1e9,2e9,3e9,4e9,5e9,6e9,7e9,8e9,9e9,1e10,2e10,3e10,4e10,5e10,6e10,7e10,8e10,9e10,1e11,2e11,3e11,4e11,5e11,6e11,7e11,8e11,9e11,1e12,2e12,3e12,4e12,5e12,6e12,7e12,8e12,9e12,1e13,2e13,3e13,4e13,5e13,6e13,7e13,8e13,9e13,1e14,2e14,3e14,4e14,5e14,6e14,7e14,8e14,9e14,1e15,2e15,3e15,4e15,5e15,6e15,7e15,8e15,9e15,1e16,2e16,3e16,4e16,5e16,6e16,7e16,8e16],
       "labelExpr": "datum.value == 1e9 ? '10⁹' : datum.value == 1e10 ? '10¹⁰' : datum.value == 1e11 ? '10¹¹' : datum.value == 1e12 ? '10¹²' : datum.value == 1e13 ? '10¹³' : datum.value == 1e14 ? '10¹⁴' : datum.value == 1e15 ? '10¹⁵' : datum.value == 1e16 ? '10¹⁶' : ''",
       "labelFontSize": 15.5, "labelFontWeight": "bold", "labelPadding": 8.3, "grid": true, "gridColor": "#e2e2e2", "title": null}},
     "color": {"field": "species", "type": "nominal", "scale": {"domain": ["N₂⁺","N₄⁺","N⁺","N"], "range": ["#5a7cf5","#3cb44b","#e53030","#222222"]},
      "legend": {"orient": "none", "legendX": 5.7, "legendY": 626.7, "zindex": 1, "title": null, "symbolType": "stroke", "symbolSize": 550, "symbolStrokeWidth": 2, "labelFontSize": 17, "labelFont": "Liberation Serif", "labelColor": "#111", "padding": 4, "rowPadding": 4, "labelOffset": 6, "fillColor": "#ffffff", "strokeColor": "#222"}},
     "strokeWidth": {"condition": {"test": "datum.species == 'N'", "value": 2}, "value": 1.2}
    }
   },
   {
    "data": {"values": []},
    "mark": {"type": "point"},
    "encoding": {
     "x": {"field": "t", "type": "quantitative",
      "axis": {"orient": "top", "values": [0.01,0.012,0.014,0.016,0.018,0.02], "labels": false, "grid": false, "title": "Averaged number density (1/m³)", "titleX": 144, "titleY": -6.2, "titleAlign": "center", "titleBaseline": "alphabetic", "titleAngle": 0, "titleFontSize": 15.5}},
     "y": {"field": "n", "type": "quantitative", "scale": {"type": "log"},
      "axis": {"orient": "right", "values": [8e8,9e8,1e9,2e9,3e9,4e9,5e9,6e9,7e9,8e9,9e9,1e10,2e10,3e10,4e10,5e10,6e10,7e10,8e10,9e10,1e11,2e11,3e11,4e11,5e11,6e11,7e11,8e11,9e11,1e12,2e12,3e12,4e12,5e12,6e12,7e12,8e12,9e12,1e13,2e13,3e13,4e13,5e13,6e13,7e13,8e13,9e13,1e14,2e14,3e14,4e14,5e14,6e14,7e14,8e14,9e14,1e15,2e15,3e15,4e15,5e15,6e15,7e15,8e15,9e15,1e16,2e16,3e16,4e16,5e16,6e16,7e16,8e16], "labels": false, "grid": false, "title": null}}
    }
   }
  ],
  "resolve": {"axis": {"x": "independent", "y": "independent"}}
 }
]
}
